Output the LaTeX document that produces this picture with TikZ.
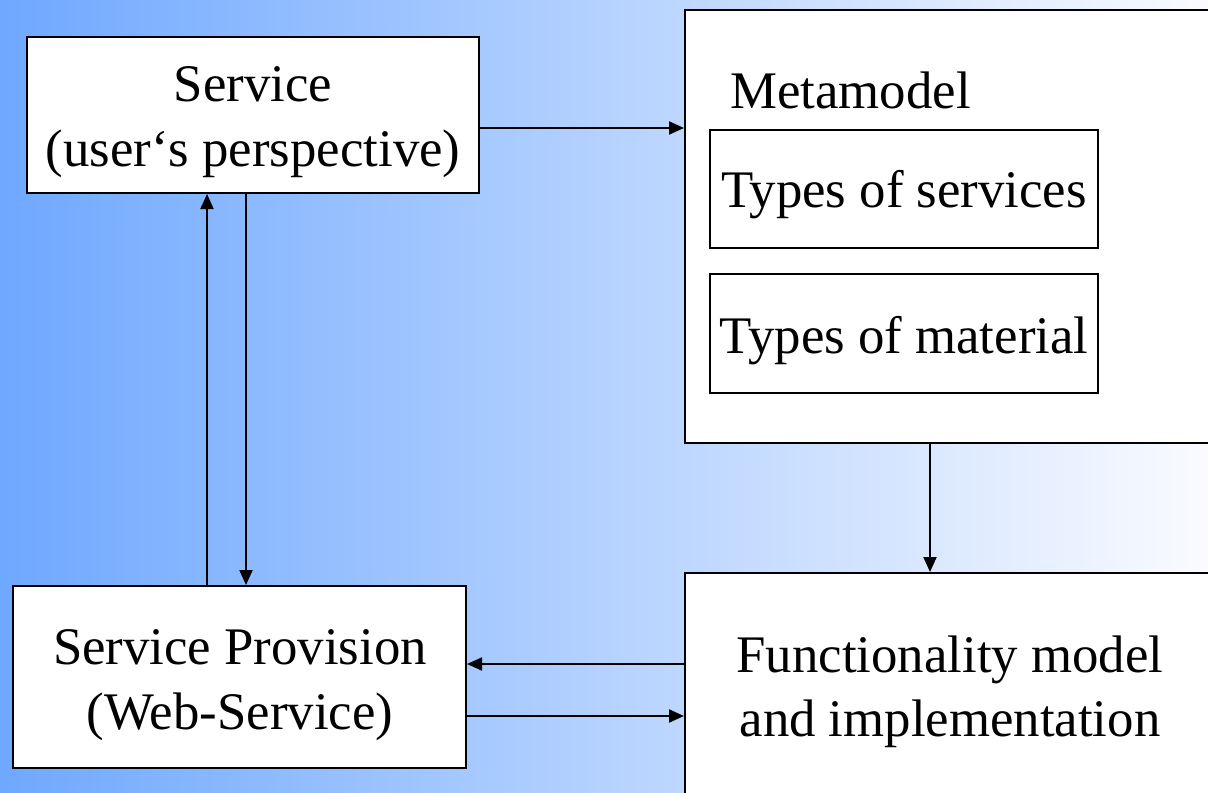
\documentclass[tikz,border=0pt]{standalone}
\usepackage{fontspec}
\setmainfont{Liberation Serif}
\usetikzlibrary{shapes.geometric, arrows.meta}
\definecolor{bgleft}{RGB}{111,168,255}
\definecolor{bgmid}{RGB}{200,217,255}
\definecolor{bgright}{RGB}{250,251,255}

\begin{document}
\begin{tikzpicture}[x=0.5pt,y=-0.5pt]
\tikzstyle{box} = [rectangle, draw, line width=1pt, fill=white, inner sep=0pt]
\tikzstyle{inbox} = [rectangle, draw, line width=0.75pt, fill=white, inner sep=0pt]
\tikzstyle{txt} = [align=center, inner sep=0pt, font=\fontsize{26.4pt}{32.25pt}\selectfont]
\tikzstyle{arrow} = [line width=1pt, -{Triangle[length=7.5pt,width=6.5pt]}]

\clip (0,0) rectangle (1208,792);
\shade [left color=bgleft, middle color=bgmid, right color=bgright] (0,0) rectangle (1208,792);

\node (serv) [box, minimum width=226pt, minimum height=78pt] at (253,115) {};
\node (servtext) [txt] at (253,122) {Service\\(user‘s perspective)};

\node (meta) [box, minimum width=273pt, minimum height=216.5pt] at (958,226.5) {};
\node (metatext) [txt, anchor=base west] at (730,109) {Metamodel};
\node (tserv) [inbox, minimum width=194pt, minimum height=59pt] at (904,189) {};
\node (tservtext) [txt] at (904,195) {Types of services};
\node (tmat) [inbox, minimum width=194pt, minimum height=59.5pt] at (904,333.5) {};
\node (tmattext) [txt] at (904,341) {Types of material};

\node (prov) [box, minimum width=226.5pt, minimum height=91pt] at (239.5,677) {};
\node (provtext) [txt] at (240,685) {Service Provision\\(Web-Service)};

\node (func) [box, minimum width=273pt, minimum height=128.5pt] at (958,701.5) {};
\node (functext) [txt] at (950,692) {Functionality model\\and implementation};

\coordinate (topline) at (0,128);
\coordinate (upline) at (207,0);
\coordinate (downline) at (246,0);
\coordinate (metaline) at (930,0);
\coordinate (backline) at (0,664);
\coordinate (forthline) at (0,716);

\draw [arrow] (serv.east |- topline) -- (meta.west |- topline);
\draw [arrow] (upline |- prov.north) -- (upline |- serv.south);
\draw [arrow] (downline |- serv.south) -- (downline |- prov.north);
\draw [arrow] (metaline |- meta.south) -- (metaline |- func.north);
\draw [arrow] (func.west |- backline) -- (prov.east |- backline);
\draw [arrow] (prov.east |- forthline) -- (func.west |- forthline);
\end{tikzpicture}
\end{document}
